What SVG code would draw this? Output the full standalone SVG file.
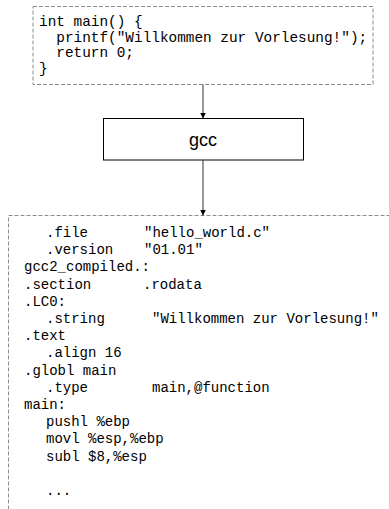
<svg xmlns="http://www.w3.org/2000/svg" width="389" height="509" viewBox="0 0 389 509">
<defs>
<style>
.code{fill:#fff;stroke:#8c8c8c;stroke-width:1;stroke-dasharray:4,2}
.box{fill:#fff;stroke:#000;stroke-width:1}
.mono{font-family:"Liberation Mono","DejaVu Sans Mono",monospace;fill:#000}
.t{font-size:14.4px}
.b{font-size:14px}
.sans{font-family:"Liberation Sans",Arial,sans-serif;font-size:18px;fill:#000}
.edge{stroke:#333;stroke-width:1;fill:none}
</style>
<marker id="ah" viewBox="0 0 6 6" refX="6" refY="3" markerWidth="6" markerHeight="6" markerUnits="userSpaceOnUse" orient="auto">
<path d="M0,0 L6,3 L0,6 z" fill="#000"/>
</marker>
</defs>
<rect width="389" height="509" fill="#fff"/>
<g id="source">
<rect class="code" x="33" y="6.5" width="340" height="78"/>
<text class="mono t" x="39" y="26">int main() {</text>
<text class="mono t" x="39" y="41.5" xml:space="preserve">  printf("Willkommen zur Vorlesung!");</text>
<text class="mono t" x="39" y="57" xml:space="preserve">  return 0;</text>
<text class="mono t" x="39" y="72.5">}</text>
</g>
<g id="gcc">
<rect class="box" x="103.5" y="118.5" width="200" height="41.5"/>
<text class="sans" x="203" y="146" text-anchor="middle">gcc</text>
</g>
<g id="asm">
<rect class="code" x="8.5" y="215.5" width="400" height="320"/>
<g class="mono b">
<text x="46" y="237">.file</text><text x="144" y="237">"hello_world.c"</text>
<text x="46" y="254.2">.version</text><text x="144" y="254.2">"01.01"</text>
<text x="24" y="271.4">gcc2_compiled.:</text>
<text x="24" y="288.6">.section</text><text x="143" y="288.6">.rodata</text>
<text x="24" y="305.8">.LC0:</text>
<text x="46" y="323">.string</text><text x="152" y="323">"Willkommen zur Vorlesung!"</text>
<text x="24" y="340.2">.text</text>
<text x="46" y="357.4">.align 16</text>
<text x="24" y="374.6">.globl main</text>
<text x="46" y="391.8">.type</text><text x="152" y="391.8">main,@function</text>
<text x="24" y="409">main:</text>
<text x="46" y="426.2">pushl %ebp</text>
<text x="46" y="443.4">movl %esp,%ebp</text>
<text x="46" y="460.6">subl $8,%esp</text>
<text x="46" y="495">...</text>
</g>
</g>
<g id="connectors">
<line class="edge" x1="203" y1="84.5" x2="203" y2="118.5" marker-end="url(#ah)"/>
<line class="edge" x1="203" y1="160" x2="203" y2="215.5" marker-end="url(#ah)"/>
</g>
</svg>
